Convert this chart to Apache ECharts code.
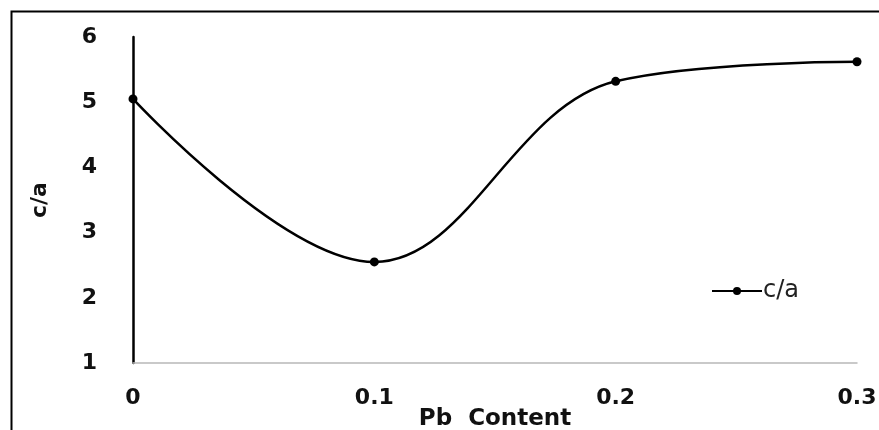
<!DOCTYPE html>
<html>
<head>
<meta charset="utf-8">
<script src="https://cdn.jsdelivr.net/npm/echarts@6/dist/echarts.min.js"></script>
<style>html,body{margin:0;padding:0;background:#fff;}#c{width:879px;height:430px;}</style>
</head>
<body>
<div id="c"></div>
<script>
var pbContent = [0, 0.1, 0.2, 0.3];
var caValues = [5.05, 2.55, 5.32, 5.62];
var xTicks = ['0', '0.1', '0.2', '0.3'];
var seriesName = 'c/a';
var xName = 'Pb  Content';
var yName = 'c/a';

var chart = echarts.init(document.getElementById('c'));
chart.setOption({
  backgroundColor: '#fff',
  animation: false,
  graphic: [{
    type: 'rect', left: 9, top: 9,
    shape: { x: 0, y: 0, width: 1000, height: 1000 },
    style: { fill: 'none', stroke: '#000', lineWidth: 2 }
  }],
  grid: { left: 133, right: 22, top: 37, bottom: 67, containLabel: false, outerBoundsMode: 'none' },
  legend: {
    data: [seriesName], left: 706, top: 274, itemWidth: 50, itemHeight: 10, itemGap: 2,
    textStyle: { fontFamily: 'DejaVu Sans', fontSize: 24, color: '#222', padding: [0, 0, 0, -4] }
  },
  xAxis: {
    type: 'value', min: 0, max: 0.3, interval: 0.1,
    name: xName, nameLocation: 'middle', nameGap: 45, nameMoveOverlap: false,
    nameTextStyle: { fontFamily: 'DejaVu Sans', fontWeight: 'bold', fontSize: 23, color: '#111' },
    axisLine: { show: true, lineStyle: { color: '#b8b8b8', width: 1.5 } },
    axisTick: { show: false }, splitLine: { show: false },
    axisLabel: {
      margin: 24, fontFamily: 'DejaVu Sans', fontWeight: 'bold', fontSize: 22, color: '#111',
      formatter: function (v) { return xTicks[Math.round(v * 10)]; }
    }
  },
  yAxis: {
    type: 'value', min: 1, max: 6, interval: 1,
    name: yName, nameLocation: 'middle', nameGap: 82, nameRotate: 90, nameMoveOverlap: false,
    nameTextStyle: { fontFamily: 'DejaVu Sans', fontWeight: 'bold', fontSize: 22, color: '#111' },
    axisLine: { show: true, lineStyle: { color: '#000', width: 2.5 } },
    axisTick: { show: false }, splitLine: { show: false },
    axisLabel: { margin: 36, fontFamily: 'DejaVu Sans', fontWeight: 'bold', fontSize: 22, color: '#111' }
  },
  series: [{
    name: seriesName, type: 'line', smooth: 0.38,
    data: pbContent.map(function (x, i) { return [x, caValues[i]]; }),
    symbol: 'circle', symbolSize: 9,
    lineStyle: { color: '#000', width: 2.5 },
    itemStyle: { color: '#000' }
  }]
});
</script>
</body>
</html>
